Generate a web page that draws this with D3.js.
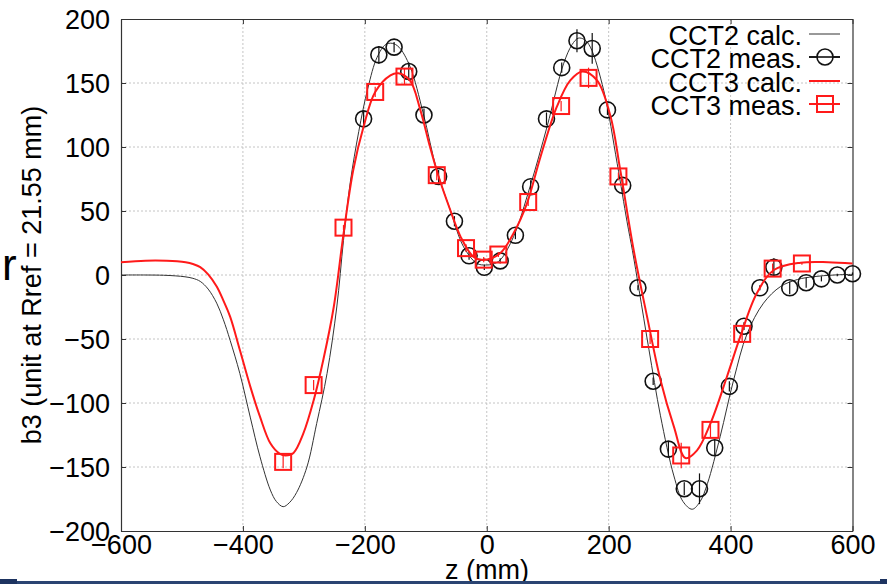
<!DOCTYPE html>
<html>
<head>
<meta charset="utf-8">
<script src="https://cdn.jsdelivr.net/npm/d3@7"></script>
<style>
  html, body { margin: 0; padding: 0; background: #fff; }
  svg { display: block; }
  text { font-family: "Liberation Sans", Arial, Helvetica, sans-serif; fill: #000; }
</style>
</head>
<body>
<svg id="chart" width="887" height="584"></svg>
<script>
// Axis ticks
const xTicks = [-600, -400, -200, 0, 200, 400, 600];
const yTicks = [-200, -150, -100, -50, 0, 50, 100, 150, 200];

// CCT2 calculated b3 profile
const cct2CalcZ = [-600, -560, -530, -510, -495, -482, -470, -457, -443, -432, -421, -405, -388, -372, -355, -345, -334, -324, -312, -295, -279, -262, -246, -235, -224, -210, -195, -180, -166, -155, -144, -126, -104, -82, -60, -38, -16, -2, 10, 22, 44, 71, 99, 126, 140, 150, 160, 170, 192, 214, 230, 239, 250, 266, 285, 307, 322, 337, 350, 362, 383, 405, 427, 454, 482, 510, 536, 570, 600];
const cct2CalcV = [0, 0, -0.2, -0.7, -1.4, -2.6, -5, -11, -22, -35, -51, -77, -111, -142, -168, -177, -181, -178, -170, -150, -116, -77, -25, 27, 72, 112, 146, 170, 180, 181, 178, 163, 126, 82, 51, 22, 9, 7.8, 8.5, 11.7, 30, 69, 116, 165, 180, 185, 184, 178, 144, 87, 42, 19, -12, -58, -110, -157, -177, -183, -177, -163, -126, -82, -46, -22, -9, -3.5, -1.3, 0, 0.5];

// CCT3 calculated b3 profile
const cct3CalcZ = [-600, -560, -525, -508, -494, -482, -470, -457, -443, -432, -421, -405, -388, -372, -355, -340, -330, -317, -301, -284, -268, -251, -235, -219, -202, -183, -158, -145, -126, -109, -93, -79, -60, -43, -22, -5, 22, 44, 66, 88, 115, 137, 157, 181, 203, 219, 241, 263, 285, 307, 326, 345, 367, 394, 416, 443, 471, 515, 560, 600];
const cct3CalcV = [10, 11.2, 11.2, 10.8, 10, 8.6, 6.2, 0.5, -9, -20, -32.5, -58.6, -87, -110.7, -131.5, -139.5, -141, -139, -124, -98, -66, -25, 32, 82, 116, 143, 156, 157.6, 152, 129, 100, 77, 51, 30, 14.3, 11.7, 17, 32.6, 56, 92, 131.5, 152, 159, 152, 124, 82, 19.5, -32.5, -82, -118.5, -143, -137, -116, -79.5, -48, -14.3, 3.9, 9.6, 10, 9];

// CCT2 measurements
const cct2MeasZ = [-202, -177, -152, -128, -103, -79, -53, -29, -4, 22, 47, 72, 98, 123, 148, 173, 198, 223, 248, 273, 298, 324, 349, 374, 398, 422, 448, 471, 497, 524, 549, 575, 600];
const cct2MeasV = [122, 172, 178, 159, 125, 77, 42, 15, 6, 11, 31, 69, 122, 162, 183, 177, 129, 70, -10, -83, -136, -167, -167, -135, -87, -40, -10, 6, -10, -6, -3, 0, 1];
const cct2MeasErr = [6, 7, 4, 7, 5, 5, 4, 3, 2, 2, 3, 5, 5, 4, 9, 12, 4, 5, 2, 3, 6, 5, 12, 6, 4, 3, 2, 7, 5, 4, 2, 1, 1];

// CCT3 measurements
const cct3MeasZ = [-334, -284, -235, -183, -135, -82, -34, -5, 19, 68, 122, 167, 216, 268, 319, 367, 419, 469, 517];
const cct3MeasV = [-146, -86, 37, 143, 155, 78, 21, 12, 16, 57, 132, 154, 77, -50, -141, -121, -46, 5, 9];
const cct3MeasErr = [5, 4, 2, 4, 6, 4, 3, 2, 2, 3, 4, 8, 3, 4, 10, 6, 7, 4, 1];

const legendLabels = ["CCT2 calc.", "CCT2 meas.", "CCT3 calc.", "CCT3 meas."];

const svg = d3.select("#chart");
const W = 887, H = 584;
const plot = { left: 121, right: 852.5, top: 19, bottom: 531 };
const FONT = 27;

const x = d3.scaleLinear().domain([-600, 600]).range([plot.left, plot.right]);
const y = d3.scaleLinear().domain([-200, 200]).range([plot.bottom, plot.top]);

// dotted grid
const grid = svg.append("g");
grid.selectAll("line.gx").data(xTicks.slice(1, -1)).enter().append("line")
  .attr("x1", d => x(d)).attr("x2", d => x(d))
  .attr("y1", plot.top).attr("y2", plot.bottom)
  .attr("stroke", "#c4c4c4").attr("stroke-width", 1).attr("stroke-dasharray", "2,2");
grid.selectAll("line.gy").data(yTicks.slice(1, -1)).enter().append("line")
  .attr("x1", plot.left).attr("x2", plot.right)
  .attr("y1", d => y(d)).attr("y2", d => y(d))
  .attr("stroke", "#c4c4c4").attr("stroke-width", 1).attr("stroke-dasharray", "2,2");

// axes with inward ticks and custom labels
const axB = svg.append("g").attr("transform", `translate(0,${plot.bottom})`)
  .call(d3.axisBottom(x).tickValues(xTicks).tickSizeInner(-5).tickSizeOuter(0).tickPadding(0));
const axT = svg.append("g").attr("transform", `translate(0,${plot.top})`)
  .call(d3.axisTop(x).tickValues(xTicks).tickSizeInner(-5).tickSizeOuter(0).tickFormat(""));
const axL = svg.append("g").attr("transform", `translate(${plot.left},0)`)
  .call(d3.axisLeft(y).tickValues(yTicks).tickSizeInner(-5).tickSizeOuter(0).tickPadding(0));
const axR = svg.append("g").attr("transform", `translate(${plot.right},0)`)
  .call(d3.axisRight(y).tickValues(yTicks).tickSizeInner(-5).tickSizeOuter(0).tickFormat(""));

[axB, axT, axL, axR].forEach(g => {
  g.select(".domain").attr("stroke", "#333").attr("stroke-width", 1.2);
  g.selectAll(".tick line").attr("stroke", "#333");
});
axB.selectAll(".tick text")
  .attr("font-size", FONT).attr("font-family", "Liberation Sans, Arial, sans-serif")
  .attr("fill", "#000").attr("y", 23).attr("dy", 0);
axL.selectAll(".tick text")
  .attr("font-size", FONT).attr("font-family", "Liberation Sans, Arial, sans-serif")
  .attr("fill", "#000").attr("x", -11).attr("dy", "0.35em");

// axis titles
svg.append("text")
  .attr("x", 487).attr("y", 579).attr("text-anchor", "middle")
  .attr("font-size", FONT).text("z (mm)");
svg.append("text")
  .attr("transform", "translate(41,275) rotate(-90)")
  .attr("text-anchor", "middle").attr("font-size", FONT)
  .text("b3 (unit at Rref = 21.55 mm)");
svg.append("text")
  .attr("x", 2).attr("y", 280).attr("font-size", 44).text("r");

// curves
const line = d3.line().x(d => x(d[0])).y(d => y(d[1])).curve(d3.curveCatmullRom.alpha(0.5));
const cct2Calc = d3.zip(cct2CalcZ, cct2CalcV);
const cct3Calc = d3.zip(cct3CalcZ, cct3CalcV);
const cct2Meas = d3.zip(cct2MeasZ, cct2MeasV, cct2MeasErr);
const cct3Meas = d3.zip(cct3MeasZ, cct3MeasV, cct3MeasErr);

const BLACK = "#111";
const RED = "#ff1a1a";

svg.append("path").datum(cct2Calc).attr("d", line)
  .attr("fill", "none").attr("stroke", "#333").attr("stroke-width", 1);

// CCT2 measured: error bars and circles
const g2 = svg.append("g");
g2.selectAll("line.err").data(cct2Meas).enter().append("line")
  .attr("x1", d => x(d[0])).attr("x2", d => x(d[0]))
  .attr("y1", d => y(d[1] - d[2])).attr("y2", d => y(d[1] + d[2]))
  .attr("stroke", BLACK).attr("stroke-width", 1.2);
g2.selectAll("circle").data(cct2Meas).enter().append("circle")
  .attr("cx", d => x(d[0])).attr("cy", d => y(d[1])).attr("r", 8)
  .attr("fill", "none").attr("stroke", BLACK).attr("stroke-width", 1.6);

svg.append("path").datum(cct3Calc).attr("d", line)
  .attr("fill", "none").attr("stroke", RED).attr("stroke-width", 2);

// CCT3 measured: error bars and squares
const g3 = svg.append("g");
g3.selectAll("line.err").data(cct3Meas).enter().append("line")
  .attr("x1", d => x(d[0])).attr("x2", d => x(d[0]))
  .attr("y1", d => y(d[1] - d[2])).attr("y2", d => y(d[1] + d[2]))
  .attr("stroke", RED).attr("stroke-width", 1.2);
g3.selectAll("rect").data(cct3Meas).enter().append("rect")
  .attr("x", d => x(d[0]) - 8).attr("y", d => y(d[1]) - 8)
  .attr("width", 16).attr("height", 16)
  .attr("fill", "none").attr("stroke", RED).attr("stroke-width", 2);

// legend
const legY = [45, 68, 92, 115];
const leg = svg.append("g");
leg.selectAll("text").data(legendLabels).enter().append("text")
  .attr("x", 802).attr("y", (d, i) => legY[i]).attr("text-anchor", "end")
  .attr("font-size", FONT).text(d => d);
const cy = i => legY[i] - 11;
leg.append("line").attr("x1", 809).attr("x2", 840).attr("y1", cy(0)).attr("y2", cy(0))
  .attr("stroke", "#333").attr("stroke-width", 1);
leg.append("line").attr("x1", 809).attr("x2", 840).attr("y1", cy(1)).attr("y2", cy(1))
  .attr("stroke", BLACK).attr("stroke-width", 1.6);
leg.append("circle").attr("cx", 825).attr("cy", cy(1)).attr("r", 8)
  .attr("fill", "#fff").attr("stroke", BLACK).attr("stroke-width", 1.6);
leg.append("line").attr("x1", 809).attr("x2", 840).attr("y1", cy(1)).attr("y2", cy(1))
  .attr("stroke", BLACK).attr("stroke-width", 1.6);
leg.append("line").attr("x1", 809).attr("x2", 840).attr("y1", cy(2)).attr("y2", cy(2))
  .attr("stroke", RED).attr("stroke-width", 2);
leg.append("rect").attr("x", 817).attr("y", cy(3) - 8).attr("width", 16).attr("height", 16)
  .attr("fill", "#fff").attr("stroke", RED).attr("stroke-width", 2);
leg.append("line").attr("x1", 809).attr("x2", 840).attr("y1", cy(3)).attr("y2", cy(3))
  .attr("stroke", RED).attr("stroke-width", 2);

// page rule along the bottom edge
svg.append("rect").attr("x", 0).attr("y", 581).attr("width", W).attr("height", 3).attr("fill", "#2a4472");
svg.append("rect").attr("x", 0).attr("y", 579).attr("width", 17).attr("height", 5).attr("fill", "#1d3360");
svg.append("rect").attr("x", 880).attr("y", 579).attr("width", 7).attr("height", 5).attr("fill", "#1d3360");
</script>
</body>
</html>
